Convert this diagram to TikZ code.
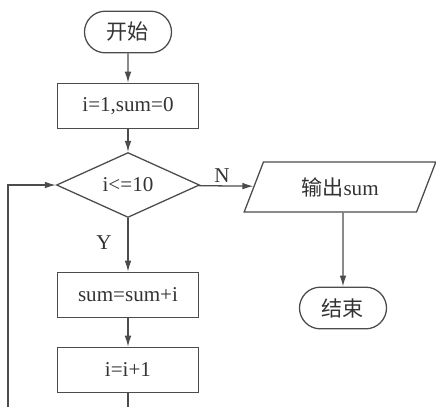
\documentclass[tikz,border=0pt]{standalone}
\usepackage{fontspec}
\setmainfont{Liberation Serif}
\newfontfamily\cjk{Noto Sans CJK SC}
\usepackage{tikz}
\usetikzlibrary{arrows.meta,shapes.geometric,shapes.misc}

\begin{document}
\begin{tikzpicture}[x=0.03cm, y=-0.03cm,
    every node/.style={text=black!80, font=\fontsize{18}{21}\selectfont},
    term/.style={draw=black!70, line width=1.1pt, rounded rectangle, minimum width=2.61cm, minimum height=1.25cm, inner sep=0pt},
    proc/.style={draw=black!70, line width=1.1pt, rectangle, minimum width=4.23cm, minimum height=1.36cm, inner sep=0pt},
    cond/.style={draw=black!70, line width=1.1pt, diamond, minimum width=4.29cm, minimum height=1.8cm, inner sep=0pt},
    io/.style={draw=black!70, line width=1.1pt, trapezium, trapezium left angle=63.4, trapezium right angle=116.6, trapezium stretches=true, minimum width=5.75cm, minimum height=1.5cm, inner sep=0pt},
    arrow/.style={-{Latex[length=3.3mm,width=2mm]}, draw=black!70, line width=1.1pt},
    line/.style={draw=black!70, line width=1.1pt}
]
\useasboundingbox (0,0) rectangle (436,407);
\node[term] (start) at (128,32) {\cjk 开始};
\node[proc] (init) at (128,106) {i=1,sum=0};
\node[cond] (test) at (128,185) {i<=10};
\node[io] (out) at (340,187) {{\cjk 输出}sum};
\node[term] (stop) at (343,308) {\cjk 结束};
\node[proc] (add) at (128,295) {sum=sum+i};
\node[proc] (inc) at (128,370) {i=i+1};
\node (nlabel) at (222,176) {N};
\node (ylabel) at (104,243) {Y};
\coordinate (cutA) at (128,407);
\coordinate (cutB) at (8,407);

\draw[arrow] (start) -- (init);
\draw[arrow] (init) -- (test);
\draw[arrow] (test) -- (out);
\draw[arrow] (out.south -| stop) -- (stop);
\draw[arrow] (test) -- (add);
\draw[arrow] (add) -- (inc);
\draw[line] (inc) -- (cutA);
\draw[arrow] (cutB) |- (test);
\end{tikzpicture}
\end{document}
